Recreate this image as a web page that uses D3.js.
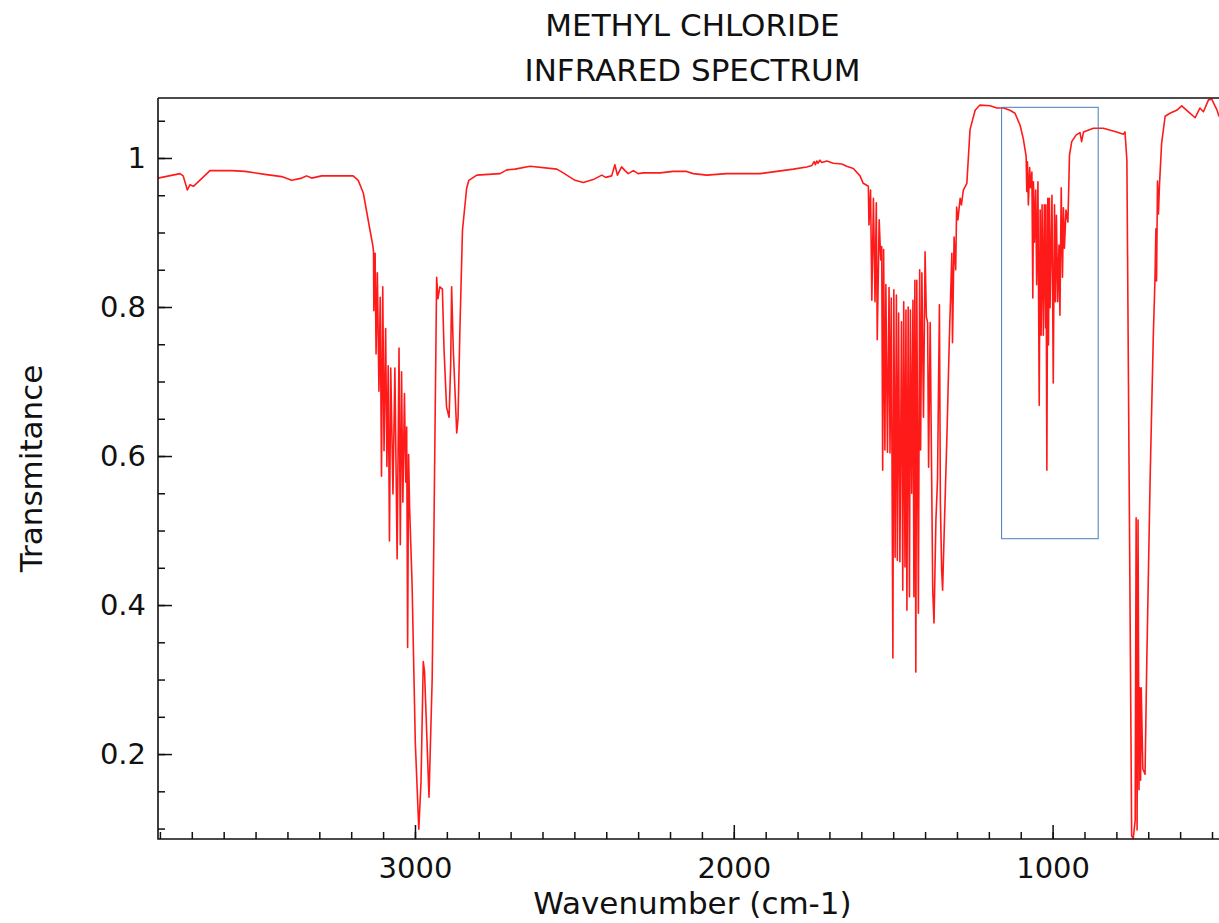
<!DOCTYPE html>
<html>
<head>
<meta charset="utf-8">
<script src="https://cdn.jsdelivr.net/npm/d3@7"></script>
<style>
  body { margin: 0; background: #fff; }
  svg { display: block; font-family: "DejaVu Sans", sans-serif; }
</style>
</head>
<body>
<svg id="chart" width="1219" height="923"></svg>
<script>
// spectrum pieces, [wavenumber cm-1, transmittance]
const chStretch = [
  [3806,0.973],[3737,0.979],[3727,0.976],[3714,0.957],[3706,0.964],[3695,0.962],[3685,0.966],
  [3643,0.983],[3575,0.983],[3533,0.982],[3471,0.978],[3418,0.975],[3387,0.970],[3355,0.973],
  [3340,0.976],[3324,0.973],[3293,0.976],[3194,0.976],[3178,0.970],[3162,0.953],[3141,0.903],
  [3132,0.882],[3130,0.874],[3129,0.795],[3125,0.872],[3122,0.737],[3118,0.846],[3113,0.687],
  [3109,0.813],[3105,0.573],[3101,0.827],[3097,0.607],[3092,0.771],[3088,0.586],[3084,0.721],
  [3080,0.486],[3076,0.718],[3069,0.549],[3063,0.718],[3056,0.462],[3050,0.745],[3046,0.481],
  [3042,0.713],[3038,0.538],[3033,0.684],[3029,0.565],[3026,0.639],[3023,0.343],[3020,0.602],
  [3017,0.533],[3009,0.427],[2999,0.216],[2988,0.099],[2981,0.163],[2974,0.324],[2970,0.311],
  [2956,0.142],[2946,0.301],[2941,0.481],[2932,0.840],[2928,0.811],[2922,0.827],[2914,0.824],
  [2909,0.745],[2901,0.666],[2893,0.652],[2888,0.723],[2885,0.827],[2880,0.745],[2869,0.631],
  [2865,0.650],[2859,0.771],[2851,0.903],[2838,0.959],[2831,0.970],[2806,0.977]
];
const midBaseline = [
  [2733,0.979],[2712,0.984],[2686,0.985],[2639,0.989],[2555,0.985],[2535,0.980],[2498,0.970],
  [2472,0.967],[2441,0.971],[2414,0.977],[2402,0.974],[2383,0.976],[2373,0.991],[2365,0.977],
  [2352,0.988],[2341,0.983],[2331,0.979],[2315,0.983],[2300,0.979],[2284,0.980],[2231,0.980],
  [2190,0.982],[2148,0.982],[2127,0.979],[2085,0.977],[2022,0.979],[1918,0.979],[1865,0.982],
  [1813,0.985],[1771,0.988],[1755,0.990],[1748,0.995],[1744,0.991],[1740,0.996],[1736,0.993],
  [1730,0.997],[1724,0.994],[1708,0.996],[1688,0.993],[1661,0.992],[1646,0.989],[1625,0.986],
  [1604,0.976],[1594,0.966]
];
const chBend = [
  [1578,0.962],[1576,0.910],[1571,0.957],[1567,0.809],[1562,0.946],[1557,0.807],[1553,0.940],
  [1550,0.756],[1544,0.917],[1539,0.863],[1536,0.881],[1533,0.581],[1530,0.877],[1526,0.608],
  [1523,0.830],[1518,0.605],[1513,0.826],[1510,0.604],[1506,0.812],[1501,0.329],[1498,0.823],
  [1494,0.464],[1490,0.816],[1487,0.460],[1483,0.792],[1479,0.458],[1474,0.780],[1470,0.420],
  [1467,0.807],[1463,0.451],[1460,0.796],[1457,0.393],[1453,0.800],[1449,0.411],[1446,0.796],
  [1442,0.550],[1438,0.809],[1435,0.411],[1432,0.836],[1429,0.310],[1426,0.836],[1421,0.389],
  [1417,0.850],[1414,0.608],[1410,0.846],[1405,0.652],[1400,0.874],[1396,0.787],[1392,0.779],
  [1389,0.585],[1384,0.779],[1376,0.420],[1372,0.376],[1366,0.514],[1361,0.568],[1355,0.803],
  [1352,0.537],[1348,0.447],[1345,0.420],[1339,0.514],[1331,0.635],[1324,0.756],[1316,0.872],
  [1314,0.752],[1309,0.894],[1304,0.850],[1301,0.934],[1297,0.917],[1290,0.946],[1286,0.937],
  [1280,0.957],[1269,0.966]
];
const rockBand = [
  [1259,1.038],[1243,1.064],[1228,1.071],[1196,1.070],[1175,1.067],[1154,1.067],[1134,1.064],
  [1118,1.060],[1102,1.044],[1092,1.026],[1083,1.002],[1081,0.955],[1079,0.995],[1076,0.937],
  [1072,0.987],[1069,0.960],[1065,0.981],[1062,0.812],[1060,0.968],[1057,0.887],[1053,0.957],
  [1050,0.830],[1046,0.968],[1042,0.668],[1039,0.930],[1036,0.762],[1033,0.937],[1029,0.762],
  [1026,0.937],[1022,0.772],[1021,0.937],[1018,0.581],[1015,0.946],[1013,0.749],[1010,0.946],
  [1008,0.799],[1002,0.950],[998,0.698],[994,0.937],[991,0.807],[988,0.923],[984,0.807],
  [980,0.883],[977,0.789],[973,0.960],[969,0.840],[966,0.933],[963,0.879],[958,0.930],
  [952,0.914],[947,1.004],[940,1.022],[926,1.031],[914,1.034],[909,1.022],[903,1.035],
  [872,1.040],[841,1.040],[799,1.035],[778,1.032],[773,1.035],[767,0.997]
];
const cclStretch = [
  [752,0.090],[747,0.087],[741,0.111],[738,0.517],[735,0.098],[732,0.514],[729,0.152],
  [727,0.289],[724,0.165],[722,0.289],[717,0.180],[710,0.173],[705,0.314],[694,0.572],
  [684,0.764],[679,0.835],[676,0.905],[674,0.835],[671,0.969],[668,0.925],[665,0.962],
  [658,1.020],[647,1.056],[632,1.060],[611,1.064],[595,1.070],[574,1.062],[553,1.054],
  [538,1.067],[527,1.062],[511,1.078],[501,1.079],[485,1.065],[478,1.056],[453,1.051]
];

const xDomain = [3806, 453];
const yDomain = [0.086, 1.0805];
const xMajor = [3000, 2000, 1000];
const xMinor = d3.range(3800, 450, -100);
const yMajor = [0.2, 0.4, 0.6, 0.8, 1];
const yMinor = d3.range(0.1, 1.076, 0.05);
const boxWn = [1160, 857];
const boxT = [0.489, 1.068];
const titleLines = ["METHYL CHLORIDE", "INFRARED SPECTRUM"];

const spectrum = [].concat(chStretch, midBaseline, chBend, rockBand, cclStretch);

const svg = d3.select('#chart');
const plotLeft = 158, plotRight = 1227, plotTop = 98, plotBottom = 839;

const x = d3.scaleLinear().domain(xDomain).range([plotLeft, plotRight]);
const y = d3.scaleLinear().domain(yDomain).range([plotBottom, plotTop]);

svg.append('defs').append('clipPath').attr('id', 'plotClip')
  .append('rect').attr('x', plotLeft).attr('y', plotTop)
  .attr('width', plotRight - plotLeft).attr('height', plotBottom - plotTop);

// the spectrum
const line = d3.line().x(d => x(d[0])).y(d => y(d[1]));
svg.append('path')
  .datum(spectrum)
  .attr('clip-path', 'url(#plotClip)')
  .attr('fill', 'none')
  .attr('stroke', '#ff1a1a')
  .attr('stroke-width', 1.6)
  .attr('stroke-linejoin', 'round')
  .attr('d', line);

// highlight box
svg.append('rect')
  .attr('x', x(boxWn[0]))
  .attr('y', y(boxT[1]))
  .attr('width', x(boxWn[1]) - x(boxWn[0]))
  .attr('height', y(boxT[0]) - y(boxT[1]))
  .attr('fill', 'none')
  .attr('stroke', '#4a7ebb')
  .attr('stroke-width', 1);

// axes, ticks pointing inwards
const fmt = d3.format('~g');
const xAxisMinor = svg.append('g').attr('transform', `translate(0,${plotBottom})`)
  .call(d3.axisBottom(x).tickValues(xMinor).tickSize(-7).tickFormat(''));
const xAxis = svg.append('g').attr('transform', `translate(0,${plotBottom})`)
  .call(d3.axisBottom(x).tickValues(xMajor).tickSize(-14).tickPadding(18).tickFormat(fmt));
const yAxisMinor = svg.append('g').attr('transform', `translate(${plotLeft},0)`)
  .call(d3.axisLeft(y).tickValues(yMinor).tickSize(-7).tickFormat(''));
const yAxis = svg.append('g').attr('transform', `translate(${plotLeft},0)`)
  .call(d3.axisLeft(y).tickValues(yMajor).tickSize(-14).tickPadding(12).tickFormat(fmt));

[xAxisMinor, xAxis, yAxisMinor, yAxis].forEach(g => {
  g.select('.domain').remove();
  g.selectAll('line').attr('stroke', '#111').attr('stroke-width', 1.5);
  g.selectAll('text').attr('font-size', 29).attr('fill', '#111')
    .attr('font-family', '"DejaVu Sans", sans-serif');
});

// frame
svg.append('path')
  .attr('d', `M${plotLeft},${plotTop}H${plotRight}M${plotLeft},${plotTop}V${plotBottom}H${plotRight}`)
  .attr('fill', 'none')
  .attr('stroke', '#111')
  .attr('stroke-width', 1.6);

// titles
svg.selectAll('.title').data(titleLines).enter().append('text')
  .attr('class', 'title')
  .attr('x', (plotLeft + plotRight) / 2)
  .attr('y', (d, i) => 36 + i * 45)
  .attr('text-anchor', 'middle')
  .attr('font-size', 31)
  .attr('fill', '#111')
  .text(d => d);

svg.append('text')
  .attr('x', (plotLeft + plotRight) / 2)
  .attr('y', 914)
  .attr('text-anchor', 'middle')
  .attr('font-size', 31)
  .attr('fill', '#111')
  .text('Wavenumber (cm-1)');

svg.append('text')
  .attr('transform', `translate(42,${(plotTop + plotBottom) / 2}) rotate(-90)`)
  .attr('text-anchor', 'middle')
  .attr('font-size', 31)
  .attr('fill', '#111')
  .text('Transmitance');
</script>
</body>
</html>
